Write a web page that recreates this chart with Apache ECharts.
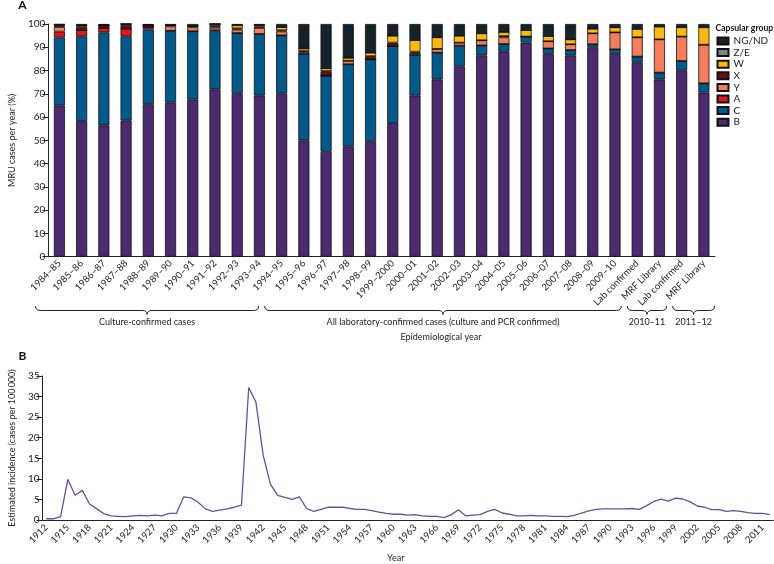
<!DOCTYPE html>
<html><head><meta charset="utf-8">
<script src="https://cdn.jsdelivr.net/npm/echarts@6/dist/echarts.min.js"></script>
<style>html,body{margin:0;padding:0;background:#fff}#c{width:774px;height:564px}</style>
</head><body><div id="c"></div>
<script>
// ---------- Panel A data ----------
const categoriesA = ['1984–85','1985–86','1986–87','1987–88','1988–89','1989–90','1990–91','1991–92','1992–93','1993–94',
  '1994–95','1995–96','1996–97','1997–98','1998–99','1999–2000','2000–01','2001–02','2002–03','2003–04','2004–05','2005–06',
  '2006–07','2007–08','2008–09','2009–10','Lab confirmed','MRF Library','Lab confirmed','MRF Library'];
const valsB  = [65.0,58.3,56.4,58.6,65.5,66.3,67.6,71.9,70.2,69.3,70.2,50.0,45.1,47.4,49.6,57.4,69.3,76.2,81.8,86.5,88.1,92.0,87.1,86.5,90.0,87.1,83.5,76.2,80.1,70.5];
const valsC  = [29.2,36.4,40.0,36.1,32.1,30.8,29.3,25.0,25.9,26.4,24.9,37.1,32.7,35.3,35.2,33.1,17.4,11.5,8.9,4.3,3.3,2.6,2.4,2.3,1.3,2.0,2.5,2.9,4.0,4.0];
const valsA  = [2.5,2.7,1.9,3.3,1.0,0,0,0.7,0,0,0,0,0,0,0,0,0,0,0,0,0,0,0,0,0,0,0,0,0,0];
const valsY  = [2.0,0,0,0,0,1.9,1.7,1.0,1.5,2.6,1.7,0.8,0,1.5,0,0,0.8,1.6,1.3,2.2,2.9,0,3.1,2.5,4.7,7.3,8.3,14.3,10.5,16.6];
const valsX  = [0.5,1.4,1.2,1.5,0.9,0.5,0.5,0.6,0.5,0.6,0.5,0.5,2.0,0,1.4,1.5,0.6,0,0,0,0.5,0,0,0,0,0,0,0,0,0];
const valsW  = [0.5,0.6,0,0.5,0,0,0,0.8,1.4,0.6,1.4,1.1,1.2,1.3,1.5,3.0,5.0,5.0,3.0,3.0,1.8,2.8,2.2,2.1,2.0,2.2,3.6,5.5,4.0,7.5];
const valsZE = [0,0,0,0,0,0,0,0,0,0,0,0,0,0,0,0,0,0,0,0,0,0,0,0,0,0,0,0,0,0];
const valsNG = [0.3,0.6,0.5,0,0.5,0.5,0.9,0,0.5,0.5,1.3,10.5,19.0,14.5,12.3,5.0,6.9,5.7,5.0,4.0,3.4,2.6,5.2,6.6,2.0,1.4,2.1,1.1,1.4,1.4];
const groupsA = [
  {label:'Culture-confirmed cases', count:10},
  {label:'All laboratory-confirmed cases (culture and PCR confirmed)', count:16},
  {label:'2010–11', count:2},
  {label:'2011–12', count:2}
];

// ---------- Panel B data ----------
const yearsB = [];
for (let y = 1912; y <= 2012; y++) yearsB.push(String(y));
const incidence = [0.3,0.3,0.8,9.9,6.0,7.2,3.9,2.7,1.5,1.0,0.9,0.8,1.0,1.1,1.0,1.2,1.0,1.6,1.6,5.6,5.4,4.3,2.7,2.1,2.4,2.7,3.1,3.6,
  32.2,28.6,15.7,8.7,6.0,5.5,5.0,5.6,2.8,2.1,2.6,3.1,3.1,3.1,2.8,2.6,2.6,2.3,1.9,1.6,1.4,1.4,1.2,1.3,1.0,0.9,0.9,0.6,1.3,2.5,1.0,
  1.2,1.3,2.1,2.6,1.7,1.4,1.0,1.0,1.1,1.0,1.0,0.9,0.9,0.8,1.1,1.7,2.2,2.6,2.7,2.7,2.7,2.7,2.8,2.6,3.5,4.5,5.1,4.6,5.3,5.1,4.4,
  3.4,3.1,2.5,2.5,2.1,2.3,2.1,1.8,1.6,1.6,1.3];

const colors = {'B':'#4b2a6f','C':'#04598b','A':'#e0161c','Y':'#f37d5c','X':'#6b0d18','W':'#fbb811','Z/E':'#7e878b','NG/ND':'#17232b'};
const stackOrder = [['B',valsB],['C',valsC],['A',valsA],['Y',valsY],['X',valsX],['W',valsW],['Z/E',valsZE],['NG/ND',valsNG]];
const FONT = 'Lato, "Noto Sans", sans-serif';
const TXT = '#222';

const gA = {left:35, right:59, top:24, bottom:307.3};
const gB = {left:35, right:0.7, top:376, bottom:43};

const barSeries = stackOrder.map(([name, vals]) => ({
  name, type:'bar', stack:'a', xAxisIndex:0, yAxisIndex:0, barWidth:'50%',
  itemStyle:{color:colors[name], borderColor:'#111', borderWidth:0.8},
  data: vals
}));

// brackets (curly braces under the category groups)
const graphics = [];
const W = 774;
const plotW = W - gA.left - gA.right;
const catW = plotW / categoriesA.length;
let k = 0;
const yb = 306, yl = 310.5, yc = 314.5;
const braceStyle = {stroke:'#222', lineWidth:1, fill:null};
function bez(x1,y1,cx,cy,x2,y2){ return {type:'bezierCurve', shape:{x1,y1,x2,y2,cpx1:cx,cpy1:cy}, style:braceStyle}; }
function ln(x1,y1,x2,y2){ return {type:'line', shape:{x1,y1,x2,y2}, style:braceStyle}; }
groupsA.forEach((g, gi) => {
  const x1 = gA.left + k*catW + (gi === 0 ? 0.5 : 3);
  const x2 = gA.left + (k+g.count)*catW - (gi === groupsA.length-1 ? 0.5 : 3);
  const cx = (x1 + x2)/2;
  k += g.count;
  graphics.push(bez(x1,yb,x1,yl,x1+5,yl));
  graphics.push(ln(x1+5,yl,cx-5,yl));
  graphics.push(bez(cx-5,yl,cx,yl,cx,yc));
  graphics.push(bez(cx,yc,cx,yl,cx+5,yl));
  graphics.push(ln(cx+5,yl,x2-5,yl));
  graphics.push(bez(x2-5,yl,x2,yl,x2,yb));
  graphics.push({type:'text', x:cx, y:322, style:{text:g.label, fill:TXT, font:`9px ${FONT}`, textAlign:'center', textVerticalAlign:'middle'}});
});
graphics.push({type:'text', x:441, y:337, style:{text:'Epidemiological year', fill:TXT, font:`9px ${FONT}`, textAlign:'center', textVerticalAlign:'middle'}});
graphics.push({type:'text', x:22.5, y:5, style:{text:'A', fill:'#111', font:`bold 12px ${FONT}`, textAlign:'center', textVerticalAlign:'middle'}});
graphics.push({type:'text', x:22.5, y:356, style:{text:'B', fill:'#111', font:`bold 12px ${FONT}`, textAlign:'center', textVerticalAlign:'middle'}});
graphics.push({type:'text', x:715.5, y:28, style:{text:'Capsular group', fill:'#111', font:`bold 8.6px ${FONT}`, textAlign:'left', textVerticalAlign:'middle'}});

const axisLineStyle = {lineStyle:{color:'#222', width:1}};
const option = {
  animation:false,
  textStyle:{fontFamily:FONT},
  grid:[
    {left:gA.left, right:gA.right, top:gA.top, bottom:gA.bottom},
    {left:gB.left, right:gB.right, top:gB.top, bottom:gB.bottom}
  ],
  legend:{
    orient:'vertical', left:716.5, top:36, padding:0, itemWidth:11, itemHeight:7, itemGap:1.6,
    data:['NG/ND','Z/E','W','X','Y','A','C','B'],
    textStyle:{fontSize:10, lineHeight:10, color:TXT, fontFamily:FONT},
    icon:'rect', selectedMode:false
  },
  xAxis:[
    {type:'category', gridIndex:0, data:categoriesA,
     axisLine:axisLineStyle, axisTick:{length:5, lineStyle:{color:'#222'}},
     axisLabel:{rotate:45, interval:0, fontSize:9.5, color:TXT, margin:5, fontFamily:FONT}},
    {type:'category', gridIndex:1, data:yearsB, boundaryGap:true,
     axisLine:axisLineStyle, axisTick:{alignWithLabel:true, interval:0, length:5, lineStyle:{color:'#222'}},
     axisLabel:{rotate:45, interval:2, fontSize:9.5, color:TXT, margin:6, fontFamily:FONT},
     name:'Year', nameLocation:'middle', nameGap:34, nameTextStyle:{fontSize:9, color:TXT, fontFamily:FONT, padding:[0,24,0,0]}}
  ],
  yAxis:[
    {type:'value', gridIndex:0, min:0, max:100, interval:10,
     axisLine:{show:true, lineStyle:{color:'#222'}}, axisTick:{show:true, length:6, lineStyle:{color:'#222'}},
     splitLine:{show:false}, axisLabel:{fontSize:10, color:TXT, margin:3, fontFamily:FONT},
     name:'MRU cases per year (%)', nameLocation:'middle', nameGap:29, nameTextStyle:{fontSize:9, color:TXT, fontFamily:FONT}},
    {type:'value', gridIndex:1, min:0, max:35, interval:5,
     axisLine:{show:true, lineStyle:{color:'#222'}}, axisTick:{show:true, length:6, lineStyle:{color:'#222'}},
     splitLine:{show:false}, axisLabel:{fontSize:10, color:TXT, margin:3, fontFamily:FONT},
     name:'Estimated incidence (cases per 100\u2009000)', nameLocation:'middle', nameGap:25, nameTextStyle:{fontSize:9, color:TXT, fontFamily:FONT}}
  ],
  series: barSeries.concat([{
    name:'Incidence', type:'line', xAxisIndex:1, yAxisIndex:1, data:incidence,
    symbol:'none', lineStyle:{color:'#6b4c9f', width:1.3}
  }]),
  graphic: graphics
};
const chart = echarts.init(document.getElementById('c'), null, {renderer:'canvas'});
chart.setOption(option);
</script></body></html>
